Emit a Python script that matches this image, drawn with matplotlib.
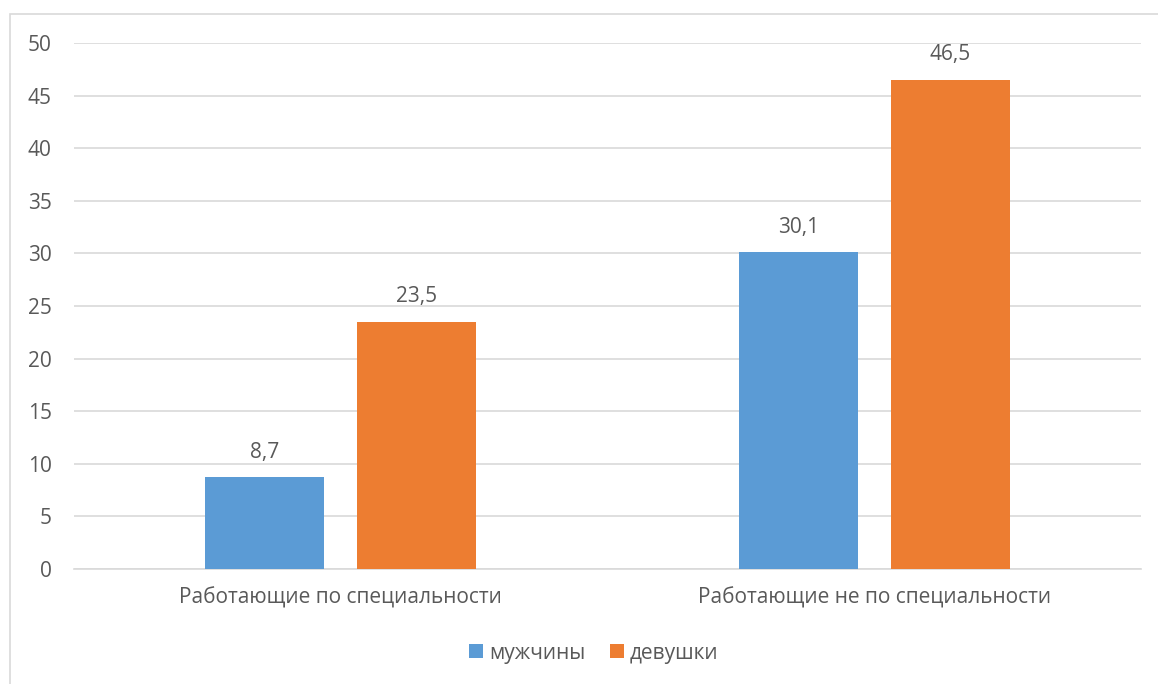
import numpy as np
import matplotlib.pyplot as plt
from matplotlib.patches import Rectangle

categories = ['Работающие по специальности', 'Работающие не по специальности']
series_names = ['мужчины', 'девушки']
men = [8.7, 30.1]
women = [23.5, 46.5]
yticks = [0, 5, 10, 15, 20, 25, 30, 35, 40, 45, 50]

blue = '#5B9BD5'
orange = '#ED7D31'
txt = '#595959'
grid = '#D9D9D9'
fs = 15

plt.rcParams['font.family'] = ['Open Sans', 'DejaVu Sans']

fig = plt.figure(figsize=(11.58, 6.84), dpi=100)
ax = fig.add_axes([74 / 1158, 1 - 569 / 684, (1141 - 74) / 1158, (569 - 43) / 684])

# chart frame like Excel
fig.patches.append(Rectangle((9.5 / 1158, -0.1), 1.2, 1.1 - 14 / 684,
                             transform=fig.transFigure, fill=False,
                             edgecolor=grid, linewidth=1.2))

x = np.arange(len(categories))
w = 0.223
off = w / 2 + 0.031
b1 = ax.bar(x - off, men, w, color=blue, label=series_names[0], zorder=3)
b2 = ax.bar(x + off, women, w, color=orange, label=series_names[1], zorder=3)

for bars in (b1, b2):
    for r in bars:
        h = r.get_height()
        ax.annotate(f'{h:.1f}'.replace('.', ','), (r.get_x() + r.get_width() / 2, h),
                    xytext=(0, 18), textcoords='offset points', ha='center', va='center',
                    fontsize=fs, color=txt)

ax.set_xlim(-0.5, 1.5)
ax.set_ylim(0, 50)
ax.set_yticks(yticks)
ax.set_yticklabels([str(t) for t in yticks], fontsize=fs, color=txt)
ax.set_xticks(x)
ax.set_xticklabels(categories, fontsize=fs, color=txt)
ax.tick_params(axis='both', length=0)
ax.tick_params(axis='y', pad=16)
ax.tick_params(axis='x', pad=13)
ax.yaxis.grid(True, color=grid, linewidth=1.2, zorder=0)
for s in ['top', 'right', 'left']:
    ax.spines[s].set_visible(False)
ax.spines['bottom'].set_color(grid)
ax.spines['bottom'].set_linewidth(1.2)

fig.legend(loc='center', bbox_to_anchor=(594 / 1158, 1 - 653 / 684), ncol=2, frameon=False,
           fontsize=fs, labelcolor=txt, handlelength=0.65, handleheight=0.65,
           handletextpad=0.3, columnspacing=1.2)

fig.savefig('out.png', dpi=100)
